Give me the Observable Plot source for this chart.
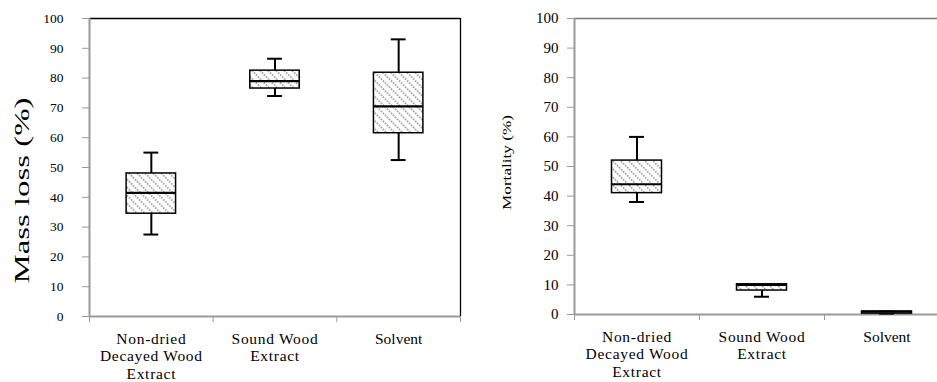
<!DOCTYPE html>
<html>
<head>
<meta charset="utf-8">
<script src="https://cdn.jsdelivr.net/npm/d3@7"></script>
<script src="https://cdn.jsdelivr.net/npm/@observablehq/plot@0.6"></script>
<style>
  html, body { margin: 0; padding: 0; background: #fff; overflow: hidden; width: 937px; height: 382px; }
  #left { position: absolute; left: 0; top: 0; width: 480px; height: 382px; }
  #right { position: absolute; left: 480px; top: 0; width: 469px; height: 382px; }
  svg, svg text { font-family: "Liberation Serif", "DejaVu Serif", serif !important; }
</style>
</head>
<body>
<div id="left"></div>
<div id="right"></div>
<script>
// Categories
const categories = ["Non-dried\nDecayed Wood\nExtract", "Sound Wood\nExtract", "Solvent"];
const yTicks = [0, 10, 20, 30, 40, 50, 60, 70, 80, 90, 100];

// Mass loss (%) box statistics
const massMin = [27.5, 74, 52.5];
const massQ1  = [34.5, 76.5, 61.5];
const massMed = [41.5, 79, 70.5];
const massQ3  = [48, 82.5, 81.8];
const massMax = [55, 86.5, 93];

// Mortality (%) box statistics
const mortMin = [38, 6, 0.3];
const mortQ1  = [41, 8.1, 0.3];
const mortMed = [44, 10, 1];
const mortQ3  = [52, 10.2, 1];
const mortMax = [60, 10.2, 1];

function rows(mn, q1, md, q3, mx) {
  return categories.map((c, i) => ({label: c, pos: i + 0.5, min: mn[i], q1: q1[i], med: md[i], q3: q3[i], max: mx[i]}));
}

function addPattern(svg, id) {
  const defs = d3.select(svg).insert("defs", ":first-child");
  const p = defs.append("pattern").attr("id", id).attr("patternUnits", "userSpaceOnUse")
    .attr("width", 5.7).attr("height", 5.7).attr("patternTransform", "rotate(-45)");
  p.append("rect").attr("width", 5.7).attr("height", 5.7).attr("fill", "#fff");
  p.append("line").attr("x1", 2.85).attr("x2", 2.85).attr("y1", 0).attr("y2", 5.7)
    .attr("stroke", "#8c8c8c").attr("stroke-width", 1.7).attr("stroke-dasharray", "1.425 1.425");
}

function boxChart(opts) {
  const data = rows(...opts.stats);
  const hw = 0.2, cw = 0.06;
  const svg = Plot.plot({
    width: opts.width,
    height: 382,
    marginTop: 18,
    marginBottom: opts.marginBottom,
    marginLeft: opts.marginLeft,
    marginRight: opts.marginRight,
    style: {fontFamily: "'Liberation Serif', serif", background: "white", color: "black"},
    x: {domain: [0, 3], axis: null},
    y: {domain: [0, 100], axis: null},
    marks: [
      // frame
      Plot.ruleY([100], {stroke: opts.topColor, strokeWidth: 1.3}),
      Plot.ruleX([3], {stroke: opts.topColor, strokeWidth: 1.3}),
      // axes lines
      Plot.ruleX([0], {stroke: "#9a9a9a", strokeWidth: 2}),
      Plot.ruleY([0], {stroke: "#9a9a9a", strokeWidth: 2}),
      Plot.axisY({ticks: yTicks, tickSize: 7, tickPadding: opts.tickPadding, fontSize: opts.tickFont, stroke: "#9a9a9a", fill: "black", label: null}),
      Plot.axisX({ticks: [0, 1, 2, 3], tickSize: 6, tickFormat: () => "", stroke: "#9a9a9a", label: null}),
      // whiskers
      Plot.ruleX(data, {x: "pos", y1: "q3", y2: "max", stroke: "black", strokeWidth: 2}),
      Plot.ruleX(data, {x: "pos", y1: "min", y2: "q1", stroke: "black", strokeWidth: 2}),
      Plot.ruleY(data, {x1: d => d.pos - cw, x2: d => d.pos + cw, y: "max", stroke: "black", strokeWidth: 2}),
      Plot.ruleY(data, {x1: d => d.pos - cw, x2: d => d.pos + cw, y: "min", stroke: "black", strokeWidth: 2}),
      // boxes
      Plot.rect(data, {x1: d => d.pos - hw, x2: d => d.pos + hw, y1: "q1", y2: "q3", fill: `url(#${opts.pid})`, stroke: "black", strokeWidth: 1.5}),
      Plot.ruleY(data, {x1: d => d.pos - hw, x2: d => d.pos + hw, y: "med", stroke: "black", strokeWidth: 2.2}),
      // category labels
      Plot.text(data, {x: "pos", text: "label", frameAnchor: "bottom", lineAnchor: "top", dy: opts.catDy, fontSize: 15.5, lineHeight: 1.12, fill: "black"}),
      // y title
      Plot.text([opts.title], {frameAnchor: "left", rotate: -90, dx: opts.titleDx, dy: opts.titleDy, fontSize: opts.titleFont, fill: "black", textAnchor: "middle"})
    ]
  });
  addPattern(svg, opts.pid);
  d3.select(svg).selectAll("text").filter(function() { return this.textContent === opts.title; })
    .attr("textLength", opts.titleLen).attr("lengthAdjust", "spacingAndGlyphs");
  d3.select(svg).selectAll("text").filter(function() { return this.querySelector("tspan"); })
    .style("letter-spacing", "0.7px");
  return svg;
}

document.getElementById("left").append(boxChart({
  stats: [massMin, massQ1, massMed, massQ3, massMax],
  width: 480, marginLeft: 89, marginRight: 20, marginBottom: 66,
  tickPadding: 19, tickFont: 13.5, topColor: "black", pid: "hatchL",
  catDy: 15, title: "Mass loss (%)", titleDx: -67, titleDy: 23, titleFont: 20, titleLen: 186
}));

document.getElementById("right").append(boxChart({
  stats: [mortMin, mortQ1, mortMed, mortQ3, mortMax],
  width: 469, marginLeft: 94, marginRight: 0, marginBottom: 68,
  tickPadding: 9, tickFont: 15, topColor: "#7a7a7a", pid: "hatchR",
  catDy: 15, title: "Mortality (%)", titleDx: -68, titleDy: -4, titleFont: 13, titleLen: 95
}));
</script>
</body>
</html>
